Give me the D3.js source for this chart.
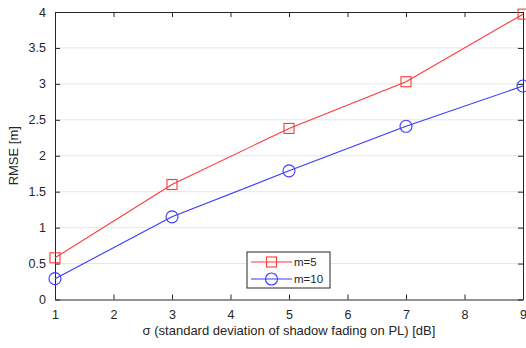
<!DOCTYPE html>
<html>
<head>
<meta charset="utf-8">
<script src="https://cdn.jsdelivr.net/npm/d3@7"></script>
<style>
  body { margin: 0; background: #fff; }
  text { font-family: "Liberation Sans", Arial, sans-serif; fill: #262626; }
</style>
</head>
<body>
<div id="chart"></div>
<script>
var sigma = [1, 3, 5, 7, 9];
var rmse_m5 = [0.58, 1.6, 2.38, 3.03, 3.97];
var rmse_m10 = [0.29, 1.15, 1.79, 2.41, 2.97];
var xTicks = [1, 2, 3, 4, 5, 6, 7, 8, 9];
var yTicks = [0, 0.5, 1, 1.5, 2, 2.5, 3, 3.5, 4];

var w = 526, h = 348;
var pLeft = 55, pRight = 523, pTop = 12, pBottom = 299.5;

var svg = d3.select("#chart").append("svg")
    .attr("width", w)
    .attr("height", h);

var x = d3.scaleLinear().domain([1, 9]).range([pLeft, pRight]);
var y = d3.scaleLinear().domain([0, 4]).range([pBottom, pTop]);

// horizontal grid
svg.selectAll("line.grid")
   .data(yTicks.slice(1, -1))
   .enter()
   .append("line")
   .attr("x1", pLeft).attr("x2", pRight)
   .attr("y1", function(d) { return y(d); })
   .attr("y2", function(d) { return y(d); })
   .attr("stroke", "#e6e6e6")
   .attr("stroke-width", 1);

// axes (ticks point inward)
var axisCol = "#262626";
function styleAxis(g) {
    g.select(".domain").attr("stroke", axisCol);
    g.selectAll(".tick line").attr("stroke", axisCol);
    g.selectAll("text").style("font-size", "12.5px").attr("fill", "#333");
}

svg.append("g")
   .attr("transform", "translate(0," + pBottom + ")")
   .call(d3.axisBottom(x).tickValues(xTicks).tickSizeInner(-5).tickSizeOuter(0).tickPadding(11).tickFormat(d3.format("d")))
   .call(styleAxis);

svg.append("g")
   .attr("transform", "translate(0," + pTop + ")")
   .call(d3.axisTop(x).tickValues(xTicks).tickSizeInner(-5).tickSizeOuter(0).tickFormat(""))
   .call(styleAxis);

svg.append("g")
   .attr("transform", "translate(" + pLeft + ",0)")
   .call(d3.axisLeft(y).tickValues(yTicks).tickSizeInner(-5).tickSizeOuter(0).tickPadding(9).tickFormat(function(d) { return d3.format("")(d); }))
   .call(styleAxis);

svg.append("g")
   .attr("transform", "translate(" + pRight + ",0)")
   .call(d3.axisRight(y).tickValues(yTicks).tickSizeInner(-5).tickSizeOuter(0).tickFormat(""))
   .call(styleAxis);

// series
var series = [
    {name: "m=5", vals: rmse_m5, color: "#ff3838", marker: "square"},
    {name: "m=10", vals: rmse_m10, color: "#3838ff", marker: "circle"}
];

var line = d3.line()
    .x(function(d) { return x(d[0]); })
    .y(function(d) { return y(d[1]); });

function drawMarker(g, type, cx, cy, color) {
    if (type === "square") {
        g.append("rect")
         .attr("x", cx - 5).attr("y", cy - 5)
         .attr("width", 10).attr("height", 10)
         .attr("fill", "none").attr("stroke", color).attr("stroke-width", 1.1);
    } else {
        g.append("circle")
         .attr("cx", cx).attr("cy", cy).attr("r", 6)
         .attr("fill", "none").attr("stroke", color).attr("stroke-width", 1.1);
    }
}

series.forEach(function(s) {
    var pts = sigma.map(function(v, i) { return [v, s.vals[i]]; });
    svg.append("path")
       .datum(pts)
       .attr("d", line)
       .attr("fill", "none")
       .attr("stroke", s.color)
       .attr("stroke-width", 1.1);
    var g = svg.append("g");
    pts.forEach(function(p) { drawMarker(g, s.marker, x(p[0]), y(p[1]), s.color); });
});

// legend
var lg = svg.append("g").attr("transform", "translate(247,252)");
lg.append("rect")
  .attr("width", 83).attr("height", 36)
  .attr("fill", "#fff").attr("stroke", "#262626").attr("stroke-width", 1);
series.forEach(function(s, i) {
    var yy = 10 + i * 17;
    lg.append("line")
      .attr("x1", 4).attr("x2", 45)
      .attr("y1", yy).attr("y2", yy)
      .attr("stroke", s.color).attr("stroke-width", 1.1);
    drawMarker(lg, s.marker, 24.5, yy, s.color);
    lg.append("text")
      .attr("x", 47).attr("y", yy + 4)
      .style("font-size", "11.5px")
      .text(s.name);
});

// axis labels
svg.append("text")
   .attr("x", (pLeft + pRight) / 2).attr("y", 335)
   .attr("text-anchor", "middle")
   .style("font-size", "13px")
   .text("σ (standard deviation of shadow fading on PL) [dB]");

svg.append("text")
   .attr("transform", "translate(18," + ((pTop + pBottom) / 2) + ") rotate(-90)")
   .attr("text-anchor", "middle")
   .style("font-size", "13px")
   .text("RMSE [m]");
</script>
</body>
</html>
